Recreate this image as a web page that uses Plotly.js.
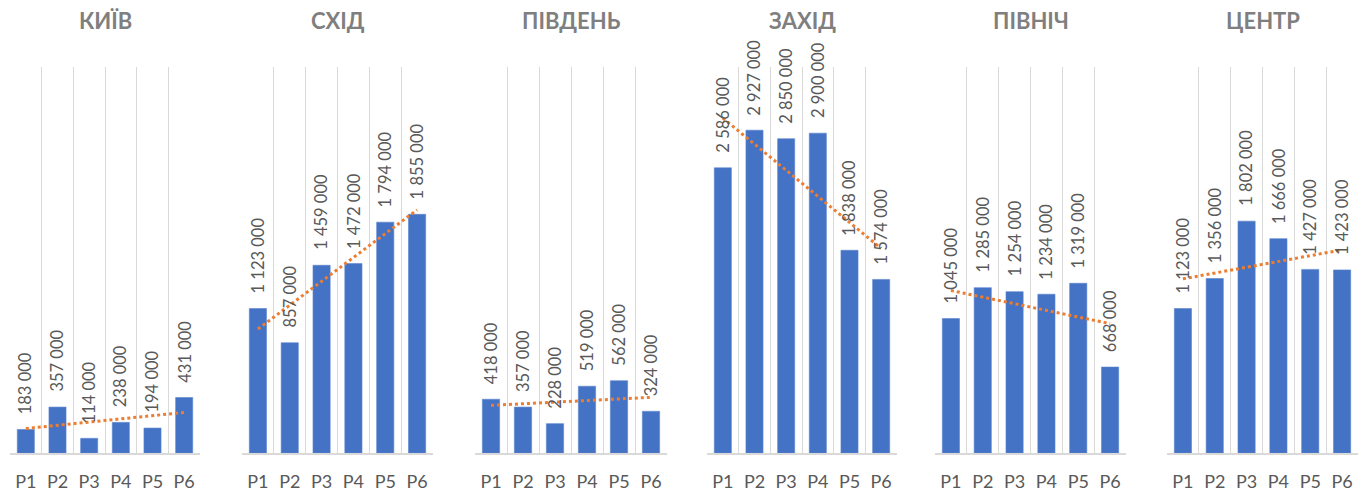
<!DOCTYPE html>
<html>
<head>
<meta charset="utf-8">
<script src="https://cdn.plot.ly/plotly-3.0.1.min.js"></script>
<style>html,body{margin:0;padding:0;background:#fff;}#chart{width:1363px;height:494px;}</style>
</head>
<body>
<div id="chart"></div>
<script>
var periods = ["P1", "P2", "P3", "P4", "P5", "P6"];
var regions = ["КИЇВ", "СХІД", "ПІВДЕНЬ", "ЗАХІД", "ПІВНІЧ", "ЦЕНТР"];
var kyiv   = [183000, 357000, 114000, 238000, 194000, 431000];
var east   = [1123000, 857000, 1459000, 1472000, 1794000, 1855000];
var south  = [418000, 357000, 228000, 519000, 562000, 324000];
var west   = [2586000, 2927000, 2850000, 2900000, 1838000, 1574000];
var north  = [1045000, 1285000, 1254000, 1234000, 1319000, 668000];
var centre = [1123000, 1356000, 1802000, 1666000, 1427000, 1423000];
var series = [kyiv, east, south, west, north, centre];
var axisMax = [3000000, 3000000, 3000000, 3500000, 3000000, 3000000];

var W = 1363, H = 494;
var xPix = [[10, 200], [242, 433], [475, 667], [707, 897], [935, 1126], [1167, 1358]];
var yDom = [41 / H, 427 / H];
var FONT = "Lato, 'Open Sans', sans-serif";

function fmt(v) { return String(v).replace(/\B(?=(\d{3})+(?!\d))/g, " "); }
function linFit(vals) {
  var n = vals.length, sx = 0, sy = 0, sxy = 0, sxx = 0;
  for (var i = 0; i < n; i++) { var x = i + 1; sx += x; sy += vals[i]; sxy += x * vals[i]; sxx += x * x; }
  var b = (n * sxy - sx * sy) / (n * sxx - sx * sx);
  var a = (sy - b * sx) / n;
  return vals.map(function (_, i) { return a + b * (i + 1); });
}

var traces = [], annotations = [];
var layout = {
  width: W, height: H,
  margin: {l: 0, r: 0, t: 0, b: 0},
  paper_bgcolor: "#ffffff", plot_bgcolor: "#ffffff",
  showlegend: false,
  bargap: 0.46,
  font: {family: FONT, color: "#595959"}
};

series.forEach(function (vals, k) {
  var ax = k === 0 ? "" : String(k + 1);
  var xa = "x" + ax, ya = "y" + ax;
  traces.push({
    type: "bar", x: periods, y: vals, xaxis: xa, yaxis: ya,
    marker: {color: "#4472C4", line: {color: "#5b85d0", width: 0.6}},
    hoverinfo: "skip"
  });
  traces.push({
    type: "scatter", mode: "lines", x: periods, y: linFit(vals), xaxis: xa, yaxis: ya,
    line: {color: "#ED7D31", width: 3, dash: "dot"},
    hoverinfo: "skip", cliponaxis: false
  });
  layout["xaxis" + ax] = {
    domain: [xPix[k][0] / W, xPix[k][1] / W],
    anchor: ya, type: "category",
    tickson: "boundaries", ticks: "",
    showgrid: true, gridcolor: "#d9d9d9", gridwidth: 1,
    showline: true, linecolor: "#d9d9d9", linewidth: 1.5,
    tickfont: {family: FONT, size: 18, color: "#595959"},
    ticklabelstandoff: 12, fixedrange: true
  };
  layout["yaxis" + ax] = {
    domain: yDom, anchor: xa, range: [0, axisMax[k]],
    showgrid: false, zeroline: false, showticklabels: false, ticks: "", fixedrange: true
  };
  vals.forEach(function (v, i) {
    annotations.push({
      xref: xa, yref: ya, x: periods[i], y: v,
      text: fmt(v), showarrow: false, textangle: -90,
      xanchor: "center", yanchor: "bottom", yshift: 13,
      font: {family: FONT, size: 16.5, color: "#595959"}
    });
  });
  annotations.push({
    xref: "paper", yref: "paper",
    x: (xPix[k][0] + xPix[k][1]) / 2 / W, y: 1 - 20 / H,
    text: "<b>" + regions[k] + "</b>", showarrow: false,
    xanchor: "center", yanchor: "middle",
    font: {family: FONT, size: 22, color: "#7f7f7f"}
  });
});
layout.annotations = annotations;

Plotly.newPlot("chart", traces, layout, {displayModeBar: false, staticPlot: true});
</script>
</body>
</html>
